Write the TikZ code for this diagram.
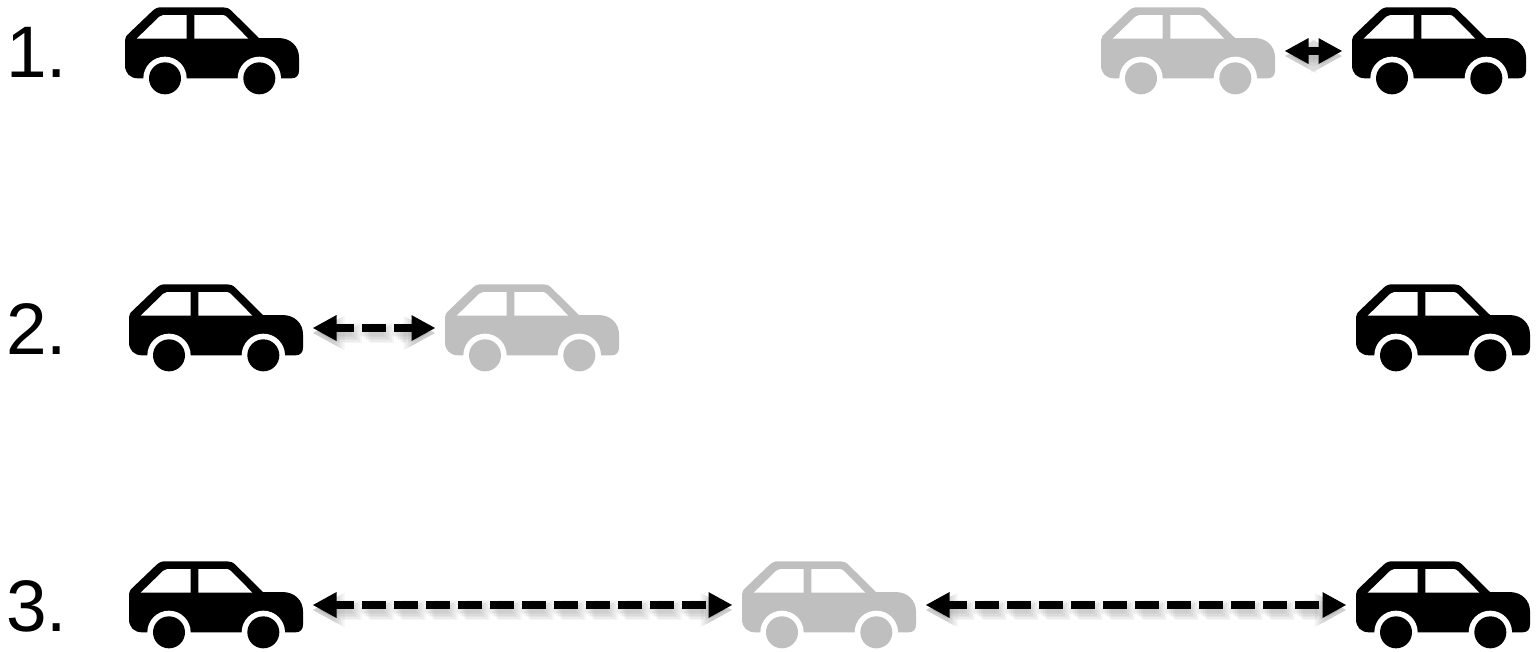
\documentclass[tikz,border=0pt]{standalone}
\usepackage{fontspec}
\setmainfont{Liberation Sans}
\usetikzlibrary{arrows.meta}
\definecolor{cargray}{HTML}{BFBFBF}
\tikzset{
  x=1pt,y=-1pt,
  pics/car/.style={code={
    \begin{scope}[scale=1/3,xshift=-291pt,yshift=153pt]
      \fill[#1] (30,120) .. controls (30,112) and (35,106) .. (44,98) -- (112,33) .. controls (122,24) and (128,22) .. (140,22)
        -- (325,22) .. controls (335,22) and (342,25) .. (350,33) -- (432,114) -- (490,114)
        .. controls (528,114) and (552,140) .. (552,172) -- (552,212)
        .. controls (552,226) and (544,235) .. (530,235) -- (70,235)
        .. controls (45,235) and (30,220) .. (30,195) -- cycle;
      \fill[white] (150,235) circle[radius=65];
      \fill[white] (433,235) circle[radius=65];
      \fill[#1] (150,235) circle[radius=48];
      \fill[#1] (433,235) circle[radius=48];
      \fill[white] (65,116) -- (215,116) -- (215,45) -- (145,45) .. controls (140,45) and (137,46) .. (133,50) -- cycle;
      \fill[white] (238,116) -- (400,116) -- (337,52) .. controls (332,47) and (328,45) .. (322,45) -- (238,45) -- cycle;
    \end{scope}
  }},
  carbox/.style={minimum width=193pt,minimum height=87pt,inner sep=0pt,outer sep=0pt},
  rowlabel/.style={anchor=base west,inner sep=0pt,font=\fontsize{73pt}{73pt}\selectfont},
  tip/.style={{Triangle[length=24pt,width=24pt]}-{Triangle[length=24pt,width=24pt]}},
  shadowtip/.style={{Triangle[length=#1,width=#1]}-{Triangle[length=#1,width=#1]}},
  linkline/.style={tip,line width=8.5pt},
  linkdash/.style={linkline,dash pattern=on 24pt off 8pt,dash phase=5pt},
  shadowpass/.style 2 args={shadowtip=#1,line width=#2,black!55,opacity=0.07},
}
\newcommand{\carat}[4]{%
  \node[carbox] (#1) at (#2+97,#3+51) {};
  \pic at (#1.center) {car=#4};
}
\newcommand{\shadowed}[3]{%
  \draw[#1,shadowpass={32pt}{20pt}] ([yshift=-5pt]#2) -- ([yshift=-5pt]#3);
  \draw[#1,shadowpass={30pt}{17pt}] ([yshift=-5pt]#2) -- ([yshift=-5pt]#3);
  \draw[#1,shadowpass={28pt}{14pt}] ([yshift=-5pt]#2) -- ([yshift=-5pt]#3);
  \draw[#1,shadowpass={26pt}{11pt}] ([yshift=-5pt]#2) -- ([yshift=-5pt]#3);
  \draw[#1,shadowpass={24pt}{8pt}] ([yshift=-5pt]#2) -- ([yshift=-5pt]#3);
  \draw[#1,shadowpass={22pt}{5pt}] ([yshift=-5pt]#2) -- ([yshift=-5pt]#3);
  \draw[#1] (#2) -- (#3);
}
\begin{document}
\begin{tikzpicture}
\useasboundingbox (0,0) rectangle (1540,651);
\node[rowlabel] (n1) at (6,77) {1.};
\node[rowlabel] (n2) at (6,354) {2.};
\node[rowlabel] (n3) at (6,631) {3.};
\carat{a1}{115}{0}{black}
\carat{a2}{1091}{0}{cargray}
\carat{a3}{1342}{0}{black}
\carat{b1}{119}{277}{black}
\carat{b2}{435}{277}{cargray}
\carat{b3}{1346}{277}{black}
\carat{c1}{119}{554}{black}
\carat{c2}{732}{554}{cargray}
\carat{c3}{1346}{554}{black}
\shadowed{linkline}{a2.east}{a3.west}
\shadowed{linkdash}{b1.east}{b2.west}
\shadowed{linkdash}{c1.east}{c2.west}
\shadowed{linkdash}{c2.east}{c3.west}
\end{tikzpicture}
\end{document}
